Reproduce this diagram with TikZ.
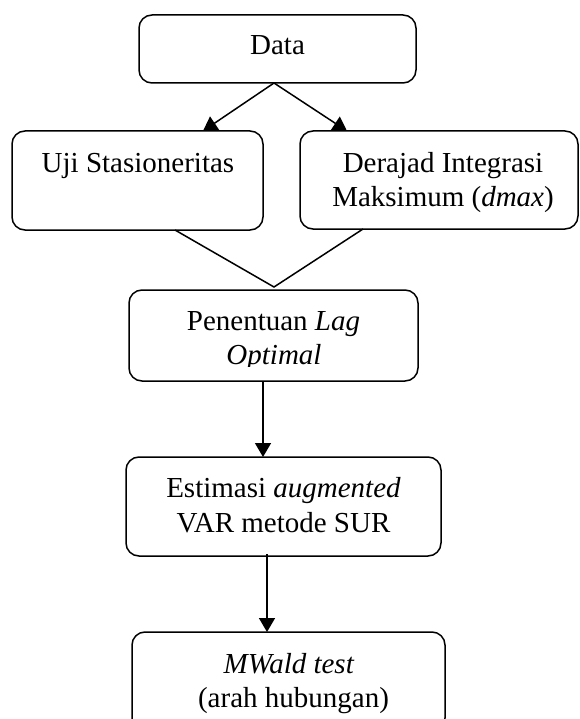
\documentclass[tikz,border=0pt]{standalone}
\usepackage{fontspec}
\setmainfont{Liberation Serif}
\usetikzlibrary{arrows.meta,calc}
\begin{document}
\begin{tikzpicture}[x=1pt,y=-1pt,
  box/.style={draw,line width=1.5pt,rounded corners=13pt,inner sep=0pt,outer sep=0pt},
  txt/.style={anchor=base,inner sep=0pt,outer sep=0pt,font=\fontsize{29}{34}\selectfont},
  arr/.style={line width=1.5pt,-{Triangle[length=14pt,width=16pt]}},
  conn/.style={line width=1.5pt}]
\useasboundingbox (0,0) rectangle (579,719);
\fill[white] (0,0) rectangle (579,719);
\clip (0,0) rectangle (579,719);
% boxes
\node[box,minimum width=277pt,minimum height=68pt] (data) at (277.5,49) {};
\node[box,minimum width=251pt,minimum height=99pt] (uji) at (137.5,180.5) {};
\node[box,minimum width=278pt,minimum height=98pt] (der) at (439,180) {};
\node[box,minimum width=289pt,minimum height=91pt] (pen) at (273.5,335.5) {};
\node[box,minimum width=315pt,minimum height=99pt] (est) at (283.5,506.5) {};
\node[box,minimum width=313pt,minimum height=99pt] (mw) at (288.5,681.5) {};
% texts
\node[txt] (dataT) at (277.5,55) {Data};
\node[txt] (ujiT) at (138,173) {Uji Stasioneritas};
\node[txt] (derT1) at (443,173) {Derajad Integrasi};
\node[txt] (derT2) at (443,207) {Maksimum (\textit{dmax})};
\node[txt] (penT1) at (273.5,330) {Penentuan \textit{Lag}};
\begin{scope}
\clip (130,291) rectangle (417,366);
\node[txt] (penT2) at (274,364) {\textit{Optimal}};
\end{scope}
\node[txt] (estT1) at (283.5,497) {Estimasi \textit{augmented}};
\node[txt] (estT2) at (283.5,532) {VAR metode SUR};
\node[txt] (mwT1) at (289,673) {\textit{MWald test}};
\node[txt] (mwT2) at (293.5,707) {(arah hubungan)};
% connectors
\draw[arr] ([xshift=-3.5pt]data.south) -- ([xshift=65.5pt]uji.north);
\draw[arr] ([xshift=-3.5pt]data.south) -- ([xshift=-92pt]der.north);
\coordinate (join) at (274,287);
\draw[conn] ([xshift=37.5pt]uji.south) -- (join) -- ([xshift=-76pt]der.south);
\draw[arr] ([xshift=-10.5pt]pen.south) -- ([xshift=-10.5pt]pen.south |- est.north);
\draw[arr] ([xshift=-16.5pt,yshift=2pt]est.south) -- ([xshift=-16.5pt]est.south |- mw.north);
\end{tikzpicture}
\end{document}
